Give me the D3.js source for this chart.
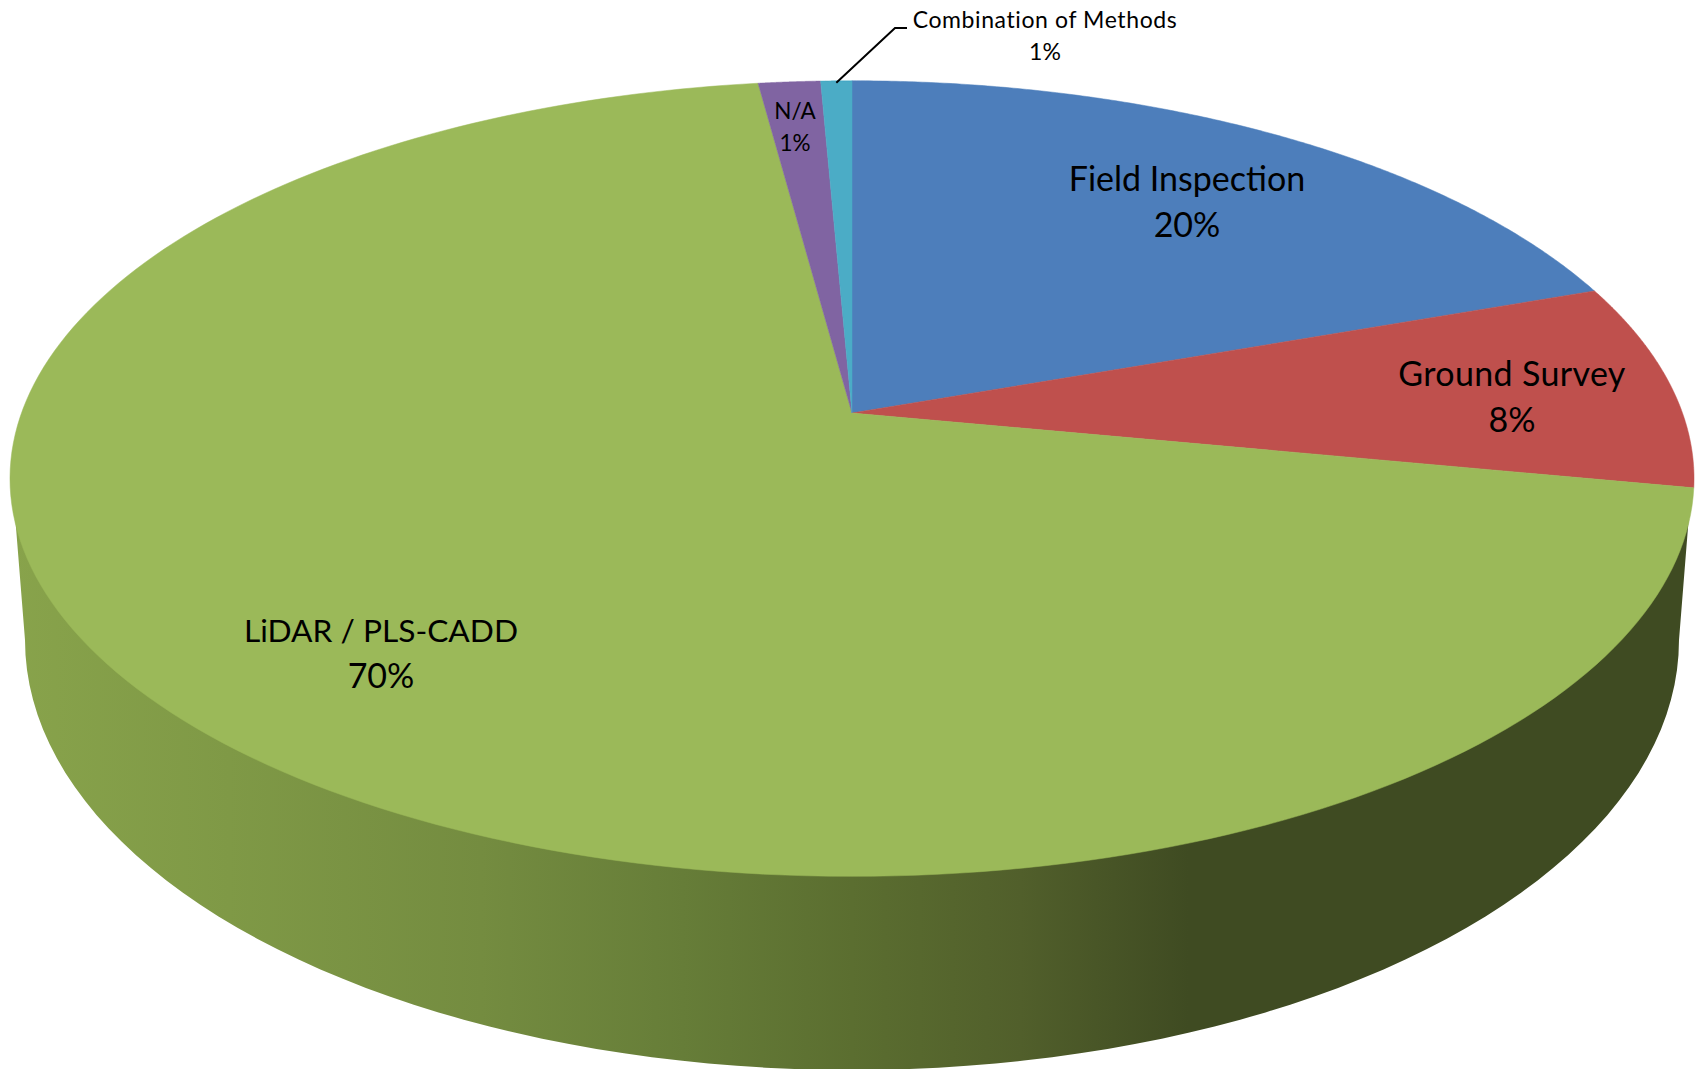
<!DOCTYPE html>
<html>
<head>
<meta charset="utf-8">
<style>
  html, body { margin: 0; padding: 0; background: #fff; }
  svg { display: block; }
  text { font-family: Lato, "Open Sans", sans-serif; fill: #000; text-anchor: middle; }
</style>
</head>
<body>
<div id="chart"></div>
<script src="https://cdn.jsdelivr.net/npm/d3@7/dist/d3.min.js"></script>
<script>
// data, clockwise from 12 o'clock
const methods = ['Field Inspection', 'Ground Survey', 'LiDAR / PLS-CADD', 'N/A', 'Combination of Methods'];
const shares = [19.6, 8.4, 69.9, 1.4, 0.7];

const sliceColors = ['#4d7ebb', '#bf504d', '#9bb959', '#8064a2', '#4bacc6'];
const wallStops = [
  [0, '#88a34b'], [0.13, '#7f9946'], [0.28, '#748c40'], [0.4, '#667d38'],
  [0.5, '#5b6e30'], [0.6, '#515f2b'], [0.7, '#3f4b22'], [1, '#3f4b22']
];

// label anchors, [x, first baseline, line gap, name size, percent size, letter spacing]
const labelLayout = [
  [1187, 191, 46, 34, 34, 0],
  [1512, 386, 46, 34, 34, 0.35],
  [381, 642, 46, 31.7, 34, 0],
  [795, 119, 32, 22.5, 22.5, 0],
  [1045, 28, 32, 23, 23, 0.6]
];

const width = 1698, height = 1069;
const svg = d3.select('#chart').append('svg').attr('width', width).attr('height', height);

// perspective of the pie plane: apex is not at the middle of the ellipse
const apex = { x: 852, y: 413 };
const persp = { a: 830.5, b: 387, k: -0.1648 };
const project = (angle, r = 1) => {
  const u = r * Math.sin(angle), v = -r * Math.cos(angle), w = 1 + persp.k * v;
  return [apex.x + persp.a * u / w, apex.y + persp.b * v / w];
};

const line = d3.line();
const pie = d3.pie().sort(null).value(d => d)(shares);

// side wall, bottom rim fitted as an ellipse
const rim = { x: 852, y: 640, rx: 827, ry: 430 };
const rimPts = d3.range(0, 181, 2).map(t => [
  rim.x + rim.rx * Math.cos(t * Math.PI / 180),
  rim.y + rim.ry * Math.sin(t * Math.PI / 180)
]);
const wallPts = [[1689, 515], ...rimPts, [15, 515]];

const grad = svg.append('defs').append('linearGradient')
  .attr('id', 'wall')
  .attr('gradientUnits', 'userSpaceOnUse')
  .attr('x1', 10).attr('x2', 1694).attr('y1', 0).attr('y2', 0);
grad.selectAll('stop').data(wallStops).join('stop')
  .attr('offset', d => d[0])
  .attr('stop-color', d => d[1]);

svg.append('path')
  .attr('d', line(wallPts) + 'Z')
  .attr('fill', 'url(#wall)');

// top face
const slicePath = d => {
  const steps = d3.range(0, 201).map(i => d.startAngle + (d.endAngle - d.startAngle) * i / 200);
  return line([[apex.x, apex.y], ...steps.map(a => project(a))]) + 'Z';
};

svg.append('g').selectAll('path').data(pie).join('path')
  .attr('d', slicePath)
  .attr('fill', (d, i) => sliceColors[i])
  .attr('stroke', (d, i) => sliceColors[i])
  .attr('stroke-width', 0.5);

// leader for the smallest slice
const last = pie[pie.length - 1];
const leadFrom = project((last.startAngle + last.endAngle) / 2);
svg.append('path')
  .attr('d', line([[leadFrom[0], leadFrom[1] + 2], [895, 28], [907, 28]]))
  .attr('fill', 'none')
  .attr('stroke', '#000')
  .attr('stroke-width', 2);

// labels
const pct = d3.format('.0f');
const labels = svg.append('g').selectAll('text').data(methods).join('text');
labels.append('tspan')
  .attr('x', (d, i) => labelLayout[i][0])
  .attr('y', (d, i) => labelLayout[i][1])
  .attr('font-size', (d, i) => labelLayout[i][3])
  .attr('letter-spacing', (d, i) => labelLayout[i][5])
  .text(d => d);
labels.append('tspan')
  .attr('x', (d, i) => labelLayout[i][0])
  .attr('y', (d, i) => labelLayout[i][1] + labelLayout[i][2])
  .attr('font-size', (d, i) => labelLayout[i][4])
  .text((d, i) => pct(shares[i]) + '%');
</script>
</body>
</html>
